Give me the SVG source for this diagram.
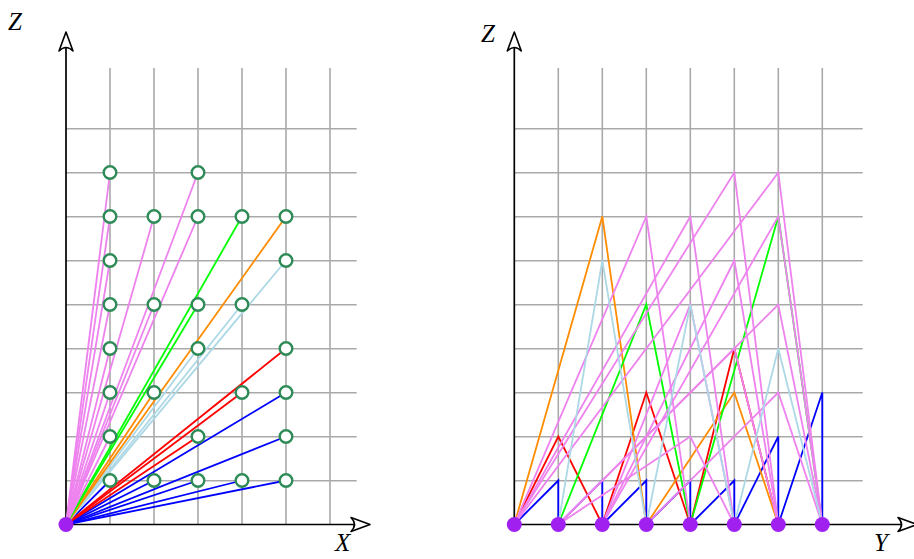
<svg xmlns="http://www.w3.org/2000/svg" width="914" height="559" viewBox="0 0 914 559">
<style>
.grid{stroke:#a9a9a9;stroke-width:1.6;fill:none}
.axis{stroke:#000;stroke-width:1.7;fill:none}
.ah{stroke:#000;stroke-width:1.6;fill:#fff;stroke-linejoin:round}
.lbl{font-family:"Liberation Serif",serif;font-style:italic;font-size:25px;fill:#000}
.c line,.c polyline{fill:none;stroke-width:1.8;stroke-linejoin:miter}
.b{stroke:#0000ff}.r{stroke:#ff0000}.o{stroke:#ff8c00}.g{stroke:#00ff00}.lb{stroke:#add8e6}.p{stroke:#ee82ee}
.pt{fill:#fff;stroke:#2e8b57;stroke-width:2.4}
.nd{fill:#a020f0}
</style>
<defs>
<path id="arr" d="M0,0 L-7,19 Q0,12 7,19 Z" class="ah"/>
</defs>
<g id="left-grid" class="grid">
<path d="M110,68V524M154,68V524M198,68V524M242,68V524M286,68V524M330,68V524"/>
<path d="M66,128.7H356.7M66,172.7H356.7M66,216.7H356.7M66,260.7H356.7M66,304.7H356.7M66,348.7H356.7M66,392.7H356.7M66,436.7H356.7M66,480.7H356.7"/>
</g>
<g id="left-axes">
<path class="axis" d="M66,524.5V36M66,524.5H366"/>
<use href="#arr" transform="translate(66,32)"/>
<use href="#arr" transform="translate(370,524.5) rotate(90)"/>
<text class="lbl" x="8" y="30">Z</text>
<text class="lbl" x="335" y="551">X</text>
</g>
<g id="left-lines" class="c">
<line class="b" x1="66" y1="524.5" x2="110" y2="480.5"/>
<line class="b" x1="66" y1="524.5" x2="154" y2="480.5"/>
<line class="b" x1="66" y1="524.5" x2="198" y2="480.5"/>
<line class="b" x1="66" y1="524.5" x2="242" y2="480.5"/>
<line class="b" x1="66" y1="524.5" x2="286" y2="480.5"/>
<line class="b" x1="66" y1="524.5" x2="286" y2="436.5"/>
<line class="b" x1="66" y1="524.5" x2="286" y2="392.5"/>
<line class="r" x1="66" y1="524.5" x2="198" y2="436.5"/>
<line class="r" x1="66" y1="524.5" x2="242" y2="392.5"/>
<line class="r" x1="66" y1="524.5" x2="286" y2="348.5"/>
<line class="lb" x1="66" y1="524.5" x2="286" y2="260.5"/>
<line class="lb" x1="66" y1="524.5" x2="242" y2="304.5"/>
<line class="lb" x1="66" y1="524.5" x2="198" y2="348.5"/>
<line class="o" x1="66" y1="524.5" x2="286" y2="216.5"/>
<line class="o" x1="66" y1="524.5" x2="154" y2="392.5"/>
<line class="g" x1="66" y1="524.5" x2="198" y2="304.5"/>
<line class="g" x1="66" y1="524.5" x2="242" y2="216.5"/>
<line class="p" x1="66" y1="524.5" x2="110" y2="172.5"/>
<line class="p" x1="66" y1="524.5" x2="198" y2="172.5"/>
<line class="p" x1="66" y1="524.5" x2="110" y2="216.5"/>
<line class="p" x1="66" y1="524.5" x2="154" y2="216.5"/>
<line class="p" x1="66" y1="524.5" x2="198" y2="216.5"/>
<line class="p" x1="66" y1="524.5" x2="110" y2="260.5"/>
<line class="p" x1="66" y1="524.5" x2="110" y2="304.5"/>
<line class="p" x1="66" y1="524.5" x2="154" y2="304.5"/>
<line class="p" x1="66" y1="524.5" x2="110" y2="348.5"/>
<line class="p" x1="66" y1="524.5" x2="110" y2="392.5"/>
<line class="p" x1="66" y1="524.5" x2="110" y2="436.5"/>
</g>
<g id="left-points">
<circle class="pt" cx="110" cy="172.5" r="6.3"/><circle class="pt" cx="198" cy="172.5" r="6.3"/>
<circle class="pt" cx="110" cy="216.5" r="6.3"/><circle class="pt" cx="154" cy="216.5" r="6.3"/><circle class="pt" cx="198" cy="216.5" r="6.3"/><circle class="pt" cx="242" cy="216.5" r="6.3"/><circle class="pt" cx="286" cy="216.5" r="6.3"/>
<circle class="pt" cx="110" cy="260.5" r="6.3"/><circle class="pt" cx="286" cy="260.5" r="6.3"/>
<circle class="pt" cx="110" cy="304.5" r="6.3"/><circle class="pt" cx="154" cy="304.5" r="6.3"/><circle class="pt" cx="198" cy="304.5" r="6.3"/><circle class="pt" cx="242" cy="304.5" r="6.3"/>
<circle class="pt" cx="110" cy="348.5" r="6.3"/><circle class="pt" cx="198" cy="348.5" r="6.3"/><circle class="pt" cx="286" cy="348.5" r="6.3"/>
<circle class="pt" cx="110" cy="392.5" r="6.3"/><circle class="pt" cx="154" cy="392.5" r="6.3"/><circle class="pt" cx="242" cy="392.5" r="6.3"/><circle class="pt" cx="286" cy="392.5" r="6.3"/>
<circle class="pt" cx="110" cy="436.5" r="6.3"/><circle class="pt" cx="198" cy="436.5" r="6.3"/><circle class="pt" cx="286" cy="436.5" r="6.3"/>
<circle class="pt" cx="110" cy="480.5" r="6.3"/><circle class="pt" cx="154" cy="480.5" r="6.3"/><circle class="pt" cx="198" cy="480.5" r="6.3"/><circle class="pt" cx="242" cy="480.5" r="6.3"/><circle class="pt" cx="286" cy="480.5" r="6.3"/>
</g>
<g id="left-origin"><circle class="nd" cx="66" cy="524.5" r="7.5"/></g>

<g id="right-grid" class="grid">
<path d="M558.3,68V524M602.3,68V524M646.3,68V524M690.3,68V524M734.3,68V524M778.3,68V524M822.3,68V524"/>
<path d="M514.3,128.7H862.7M514.3,172.7H862.7M514.3,216.7H862.7M514.3,260.7H862.7M514.3,304.7H862.7M514.3,348.7H862.7M514.3,392.7H862.7M514.3,436.7H862.7M514.3,480.7H862.7"/>
</g>
<g id="right-axes">
<path class="axis" d="M514.3,524.5V36M514.3,524.5H913"/>
<use href="#arr" transform="translate(514.3,32)"/>
<use href="#arr" transform="translate(917,524.5) rotate(90)"/>
<text class="lbl" x="481" y="42">Z</text>
<text class="lbl" x="874" y="551">Y</text>
</g>
<g id="right-connectors" class="c" transform="translate(514.3,524.5)">
<polyline class="b" points="0,0 44,-44 44,0"/>
<polyline class="b" points="44,0 88,-44 88,0"/>
<polyline class="b" points="88,0 132,-44 132,0"/>
<polyline class="b" points="132,0 176,-44 176,0"/>
<polyline class="b" points="176,0 220,-44 220,0"/>
<polyline class="b" points="220,0 264,-88 264,0"/>
<polyline class="b" points="264,0 308,-132 308,0"/>
<polyline class="r" points="0,0 44,-88 88,0"/>
<polyline class="r" points="88,0 132,-132 176,0"/>
<polyline class="r" points="176,0 220,-176 264,0"/>
<polyline class="o" points="0,0 88,-308 132,0"/>
<polyline class="o" points="132,0 220,-132 264,0"/>
<polyline class="g" points="44,0 132,-220 176,0"/>
<polyline class="g" points="176,0 264,-308 308,0"/>
<polyline class="p" points="0,0 132,-308 176,0"/>
<polyline class="p" points="0,0 176,-308 220,0"/>
<polyline class="p" points="0,0 220,-352 264,0"/>
<polyline class="p" points="0,0 264,-352 308,0"/>
<polyline class="p" points="44,0 176,-88 220,0"/>
<polyline class="p" points="44,0 220,-176 264,0"/>
<polyline class="p" points="44,0 264,-220 308,0"/>
<polyline class="p" points="88,0 176,-220 220,0"/>
<polyline class="p" points="88,0 220,-264 264,0"/>
<polyline class="p" points="88,0 264,-308 308,0"/>
<polyline class="p" points="132,0 264,-132 308,0"/>
<polyline class="lb" points="44,0 88,-264 132,0"/>
<polyline class="lb" points="132,0 176,-220 220,0"/>
<polyline class="lb" points="220,0 264,-176 308,0"/>
</g>
<g id="right-nodes">
<circle class="nd" cx="514.3" cy="524.5" r="7.5"/><circle class="nd" cx="558.3" cy="524.5" r="7.5"/><circle class="nd" cx="602.3" cy="524.5" r="7.5"/><circle class="nd" cx="646.3" cy="524.5" r="7.5"/><circle class="nd" cx="690.3" cy="524.5" r="7.5"/><circle class="nd" cx="734.3" cy="524.5" r="7.5"/><circle class="nd" cx="778.3" cy="524.5" r="7.5"/><circle class="nd" cx="822.3" cy="524.5" r="7.5"/>
</g>
</svg>
